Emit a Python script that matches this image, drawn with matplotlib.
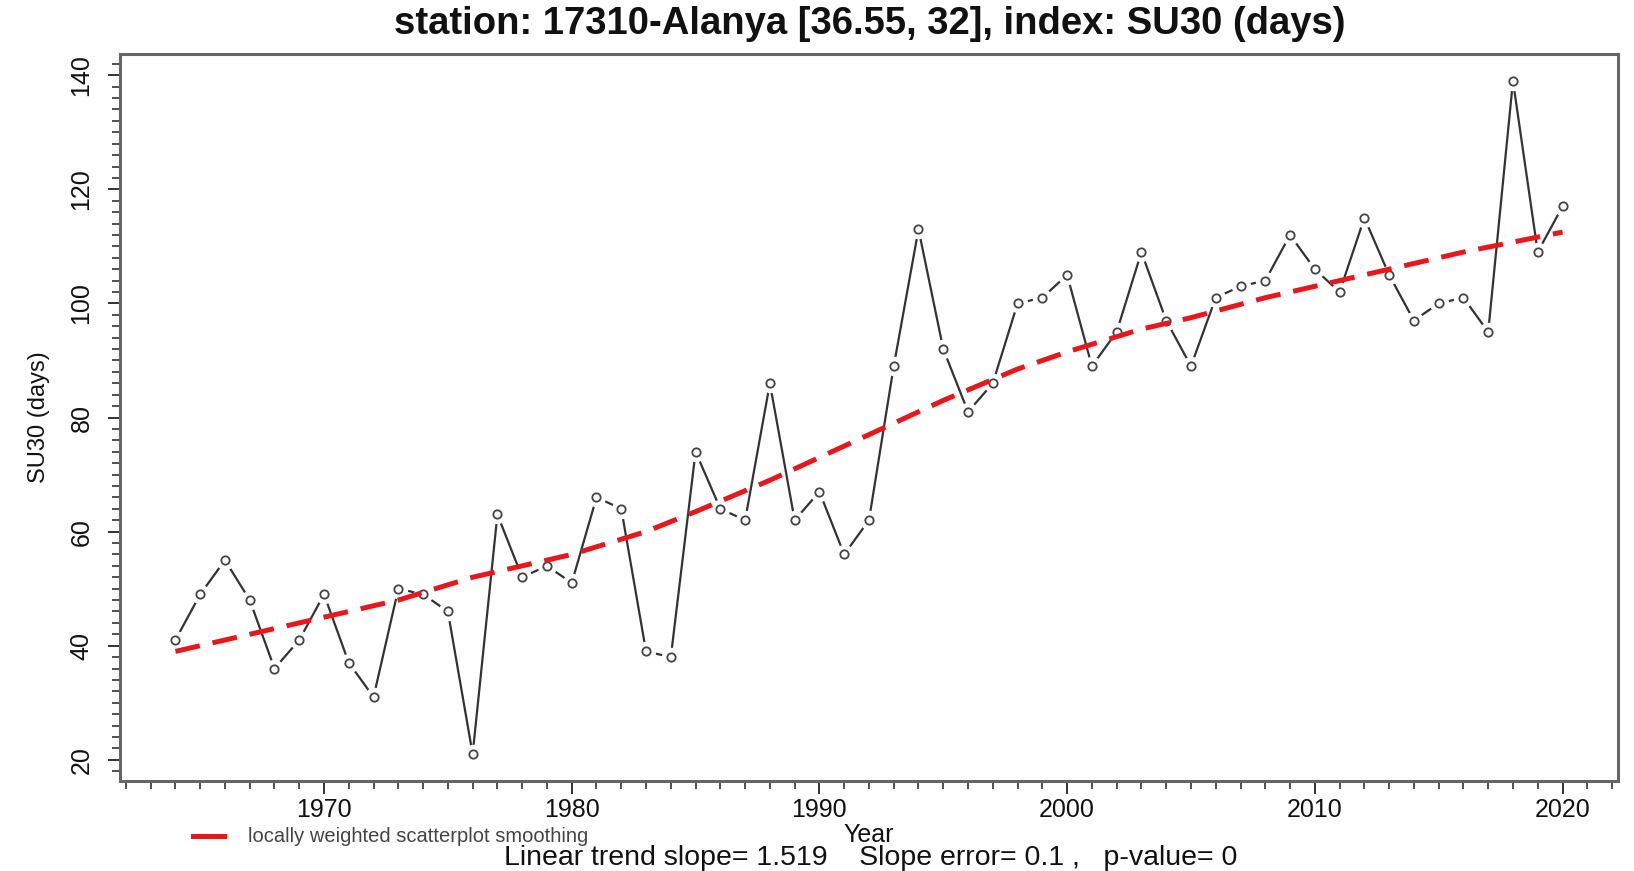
import numpy as np
import matplotlib
matplotlib.use("Agg")
import matplotlib.pyplot as plt
from matplotlib.ticker import MultipleLocator

# -------------------- data --------------------
years = list(range(1964, 2021))
su30_days = [
    41, 49, 55, 48, 36, 41, 49, 37, 31, 50,
    49, 46, 21, 63, 52, 54, 51, 66, 64, 39,
    38, 74, 64, 62, 86, 62, 67, 56, 62, 89,
    113, 92, 81, 86, 100, 101, 105, 89, 95, 109,
    97, 89, 101, 103, 104, 112, 106, 102, 115, 105,
    97, 100, 101, 95, 139, 109, 117,
]

loess_years = [1964, 1967, 1970, 1973, 1976, 1980, 1983, 1985, 1988, 1990,
               1993, 1995, 1998, 2000, 2003, 2005, 2008, 2010, 2013, 2016, 2020]
loess_days = [39, 42, 45, 48, 52, 56, 60, 63.5, 69, 73,
              79, 83, 88.5, 91.5, 95.5, 97.5, 101, 103, 106, 109, 112.5]

title = "station: 17310-Alanya [36.55, 32], index: SU30 (days)"
trend_text = "Linear trend slope= 1.519    Slope error= 0.1 ,   p-value= 0"

plt.rcParams["font.family"] = ["Liberation Sans", "DejaVu Sans"]


def main():
    fig = plt.figure(figsize=(16.34, 8.71), dpi=100)
    ax = fig.add_axes([0.0734, 0.1033, 0.9168, 0.8347])

    # R type="b": white halo under each point gives the gaps in the line
    ax.plot(years, su30_days, color="#333333", linewidth=1.6, zorder=2)
    ax.plot(years, su30_days, linestyle="none", marker="o", markersize=13,
            markerfacecolor="white", markeredgecolor="white", zorder=3)
    ax.plot(years, su30_days, linestyle="none", marker="o", markersize=6,
            markerfacecolor="white", markeredgecolor="#444444",
            markeredgewidth=1.3, zorder=4)

    ax.plot(loess_years, loess_days, color="#e8171b", linewidth=3.6,
            dashes=(5, 2.6), zorder=5)

    ax.set_xlim(1961.76, 2022.24)
    ax.set_ylim(16.28, 143.72)

    ax.xaxis.set_major_locator(MultipleLocator(10))
    ax.xaxis.set_minor_locator(MultipleLocator(1))
    ax.yaxis.set_major_locator(MultipleLocator(20))
    ax.yaxis.set_minor_locator(MultipleLocator(2))

    ax.tick_params(axis="both", which="major", length=9, width=1.4,
                   color="#333333", labelsize=18, labelcolor="#111111")
    ax.tick_params(axis="both", which="minor", length=6, width=1.2,
                   color="#333333")
    ax.tick_params(axis="x", which="major", pad=3)
    ax.tick_params(axis="y", which="major", pad=10)
    for lab in ax.get_yticklabels():
        lab.set_rotation(90)
        lab.set_va("center")

    for sp in ax.spines.values():
        sp.set_color("#666666")
        sp.set_linewidth(2.2)

    ax.set_ylabel("SU30 (days)", fontsize=17, labelpad=14, color="#111111")

    fig.text(0.532, 0.972, title, ha="center", va="center",
             fontsize=27.5, fontweight="bold", color="#111111")

    fig.text(0.5315, 0.041, "Year", ha="center", va="center",
             fontsize=18, color="#111111")
    fig.text(0.533, 0.0150, trend_text, ha="center", va="center",
             fontsize=20.5, color="#111111")

    # legend drawn by hand under the axis, as in the R output
    fig.lines.append(plt.Line2D([0.118, 0.137], [0.040, 0.040],
                                transform=fig.transFigure,
                                color="#e8171b", linewidth=3.6))
    fig.text(0.152, 0.040, "locally weighted scatterplot smoothing",
             ha="left", va="center", fontsize=14.5, color="#444444")

    fig.savefig("out.png", dpi=100, facecolor="white")


if __name__ == "__main__":
    main()
